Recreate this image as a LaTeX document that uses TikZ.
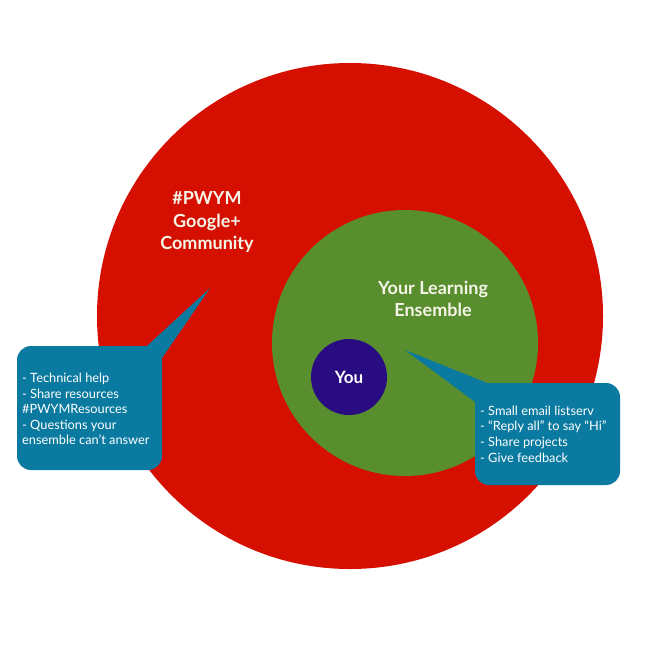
\documentclass[tikz,border=0pt]{standalone}
\usepackage{fontspec}
\setmainfont{Lato}
\usetikzlibrary{calc}
\definecolor{commred}{RGB}{213,16,0}
\definecolor{ensgreen}{RGB}{88,142,46}
\definecolor{youpurple}{RGB}{42,12,130}
\definecolor{calloutblue}{RGB}{10,122,160}
\definecolor{labelcream}{RGB}{245,245,232}
\begin{document}
\begin{tikzpicture}[x=1pt,y=-1pt,
  disc/.style={circle,inner sep=0pt,draw=none},
  calloutbox/.style={rectangle,rounded corners=14pt,fill=calloutblue,draw=none,inner sep=0pt},
  disclabel/.style={text=labelcream,font=\bfseries\fontsize{18}{22.5}\selectfont,align=center},
  boxtext/.style={text=white,font=\fontsize{12.8}{15.6}\selectfont,align=left,anchor=west,inner sep=0pt}]
\useasboundingbox (0,0) rectangle (666,656);
\fill[white] (0,0) rectangle (666,656);
% circles
\node[disc,fill=commred,minimum size=506pt] (community) at (350,316) {};
\node[disc,fill=ensgreen,minimum size=266pt] (ensemble) at (405,343) {};
\node[disc,fill=youpurple,minimum size=76pt] (you) at (349,377) {};
% circle labels
\node[disclabel] (communitylabel) at (207,222) {\#PWYM\\Google+\\Community};
\node[disclabel] (ensemblelabel) at (433,299) {Your Learning\\Ensemble};
\node[disclabel,text=white,font=\bfseries\fontsize{17}{22}\selectfont] (youlabel) at (you) {You};
% left callout
\node[calloutbox,minimum width=145pt,minimum height=124pt] (lbox) at (89.5,408) {};
\coordinate (ltip) at (210,288);
\fill[calloutblue] ($(lbox.north east)+(-15,0)$) -- (ltip) -- ($(lbox.north east)+(0,12)$) -- cycle;
\node[boxtext] (ltext) at (22,409) {- Technical help\\- Share resources\\\#PWYMResources\\- Questions your\\ensemble can’t answer};
% right callout
\node[calloutbox,minimum width=145pt,minimum height=102pt] (rbox) at (547.5,434) {};
\coordinate (rtip) at (405,350);
\fill[calloutblue] ($(rbox.north west)+(12,0)$) -- (rtip) -- ($(rbox.north west)+(0,19)$) -- cycle;
\node[boxtext] (rtext) at (480,434) {- Small email listserv\\- “Reply all” to say “Hi”\\- Share projects\\- Give feedback};
\end{tikzpicture}
\end{document}
